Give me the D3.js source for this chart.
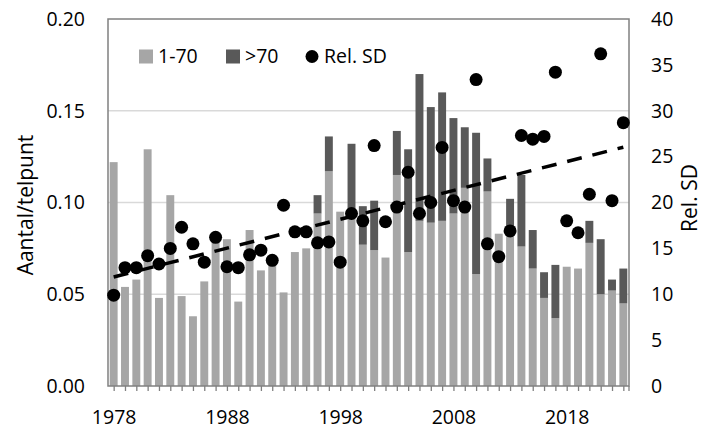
<!DOCTYPE html>
<html>
<head>
<meta charset="utf-8">
<script src="https://cdn.jsdelivr.net/npm/d3@7"></script>
<style>
  body { margin: 0; background: #fff; }
  svg text { font-family: "Open Sans", sans-serif; fill: #000; }
</style>
</head>
<body>
<div id="chart"></div>
<script>
// years on the x axis
var years = d3.range(1978, 2024);

// aantal per telpunt, 1-70 (light bars)
var low = [0.122, 0.054, 0.058, 0.129, 0.048, 0.104, 0.049, 0.038, 0.057, 0.082,
           0.080, 0.046, 0.085, 0.063, 0.067, 0.051, 0.073, 0.075, 0.094, 0.117,
           0.095, 0.096, 0.077, 0.074, 0.070, 0.115, 0.073, 0.090, 0.089, 0.090,
           0.094, 0.108, 0.061, 0.106, 0.083, 0.085, 0.076, 0.064, 0.048, 0.037,
           0.065, 0.064, 0.078, 0.050, 0.052, 0.045];

// aantal per telpunt, >70 (dark bars, stacked on top)
var high = [0, 0, 0, 0, 0, 0, 0, 0, 0, 0,
            0, 0, 0, 0, 0, 0, 0, 0, 0.010, 0.019,
            0, 0.036, 0.021, 0.027, 0, 0.024, 0.056, 0.080, 0.063, 0.070,
            0.052, 0.033, 0.077, 0.018, 0, 0.017, 0.039, 0.021, 0.014, 0.029,
            0, 0, 0.012, 0.030, 0.006, 0.019];

// relative SD (right axis)
var relSD = [9.9, 12.9, 12.9, 14.2, 13.3, 15.0, 17.3, 15.5, 13.5, 16.2,
             13.0, 12.9, 14.3, 14.8, 13.7, 19.7, 16.8, 16.8, 15.6, 15.7,
             13.5, 18.8, 18.0, 26.2, 17.9, 19.5, 23.3, 18.8, 20.0, 26.0,
             20.2, 19.5, 33.4, 15.5, 14.1, 16.9, 27.3, 26.9, 27.2, 34.2,
             18.0, 16.7, 20.9, 36.2, 20.2, 28.7];

var leftTicks = [0, 0.05, 0.10, 0.15, 0.20];
var rightTicks = [0, 5, 10, 15, 20, 25, 30, 35, 40];
var xLabels = [1978, 1988, 1998, 2008, 2018];

var width = 704, height = 430;
var margin = {top: 19, right: 75, bottom: 44, left: 108};

var data = years.map(function(y, i) {
  return {year: y, low: low[i], high: high[i], sd: relSD[i]};
});

var svg = d3.select("#chart").append("svg")
    .attr("width", width)
    .attr("height", height);

var x = d3.scaleBand()
    .domain(years)
    .range([margin.left, width - margin.right])
    .paddingInner(0.3)
    .paddingOuter(0.15);

var y = d3.scaleLinear()
    .domain([0, 0.20])
    .range([height - margin.bottom, margin.top]);

var y2 = d3.scaleLinear()
    .domain([0, 40])
    .range([height - margin.bottom, margin.top]);

var cx = function(yr) { return x(yr) + x.bandwidth() / 2; };

// gridlines
svg.append("g")
  .selectAll("line")
  .data(leftTicks.slice(1, 4))
  .enter().append("line")
    .attr("x1", margin.left)
    .attr("x2", width - margin.right)
    .attr("y1", d => y(d))
    .attr("y2", d => y(d))
    .attr("stroke", "#d9d9d9")
    .attr("stroke-width", 1.3);

// bars 1-70
svg.append("g")
  .selectAll("rect")
  .data(data)
  .enter().append("rect")
    .attr("x", d => x(d.year))
    .attr("width", x.bandwidth())
    .attr("y", d => y(d.low))
    .attr("height", d => y(0) - y(d.low))
    .attr("fill", "#a6a6a6");

// bars >70
svg.append("g")
  .selectAll("rect")
  .data(data.filter(d => d.high > 0))
  .enter().append("rect")
    .attr("x", d => x(d.year))
    .attr("width", x.bandwidth())
    .attr("y", d => y(d.low + d.high))
    .attr("height", d => y(d.low) - y(d.low + d.high))
    .attr("fill", "#595959");

// plot border
svg.append("rect")
    .attr("x", margin.left)
    .attr("y", margin.top)
    .attr("width", width - margin.left - margin.right)
    .attr("height", height - margin.top - margin.bottom)
    .attr("fill", "none")
    .attr("stroke", "#808080")
    .attr("stroke-width", 1.5);

// x axis: tick at every year, label every 10 years
var xAxis = d3.axisBottom(d3.scaleLinear().domain([1978, 2023]).range([cx(1978), cx(2023)]))
    .tickValues(years)
    .tickSize(5)
    .tickSizeOuter(0)
    .tickFormat(d => xLabels.indexOf(d) >= 0 ? d : "");

var gx = svg.append("g")
    .attr("transform", "translate(0," + (height - margin.bottom) + ")")
    .call(xAxis);
gx.select(".domain").remove();
gx.selectAll("line").attr("stroke", "#808080").attr("stroke-width", 1.3);
gx.append("line")
    .attr("x1", width - margin.right).attr("x2", width - margin.right)
    .attr("y1", 0).attr("y2", 5)
    .attr("stroke", "#808080").attr("stroke-width", 1.3);
gx.selectAll("text")
    .attr("y", 24)
    .attr("dy", "0.71em")
    .style("font-size", "19.5px")
    .style("font-family", "Open Sans");

// left axis
var gy = svg.append("g")
    .attr("transform", "translate(" + margin.left + ",0)")
    .call(d3.axisLeft(y).tickValues(leftTicks).tickSize(0).tickFormat(d3.format(".2f")));
gy.select(".domain").remove();
gy.selectAll("text")
    .attr("x", -23)
    .style("font-size", "19.5px")
    .style("font-family", "Open Sans");

// right axis
var gy2 = svg.append("g")
    .attr("transform", "translate(" + (width - margin.right) + ",0)")
    .call(d3.axisRight(y2).tickValues(rightTicks).tickSize(0));
gy2.select(".domain").remove();
gy2.selectAll("text")
    .attr("x", 22)
    .style("font-size", "19.5px")
    .style("font-family", "Open Sans");

// axis titles
svg.append("text")
    .attr("transform", "rotate(-90)")
    .attr("x", -205)
    .attr("y", 33)
    .style("text-anchor", "middle")
    .style("font-size", "21px")
    .text("Aantal/telpunt");

svg.append("text")
    .attr("transform", "rotate(-90)")
    .attr("x", -198)
    .attr("y", 697)
    .style("text-anchor", "middle")
    .style("font-size", "21px")
    .text("Rel. SD");

// linear trendline of rel. SD
var reg = (function() {
  var mx = d3.mean(data, d => d.year), my = d3.mean(data, d => d.sd);
  var sxy = d3.sum(data, d => (d.year - mx) * (d.sd - my));
  var sxx = d3.sum(data, d => (d.year - mx) * (d.year - mx));
  var b = sxy / sxx;
  return {b: b, a: my - b * mx};
})();

svg.append("path")
    .datum([1978, 2023])
    .attr("fill", "none")
    .attr("stroke", "#000")
    .attr("stroke-width", 3.5)
    .attr("stroke-dasharray", "15,11")
    .attr("d", d3.line()
      .x(d => cx(d))
      .y(d => y2(reg.a + reg.b * d)));

// rel. SD dots
svg.append("g")
  .selectAll("circle")
  .data(data)
  .enter().append("circle")
    .attr("cx", d => cx(d.year))
    .attr("cy", d => y2(d.sd))
    .attr("r", 6.5)
    .attr("fill", "#000");

// legend
var legend = svg.append("g");
legend.append("rect").attr("x", 139).attr("y", 49.5).attr("width", 14).attr("height", 14).attr("fill", "#a6a6a6");
legend.append("text").attr("x", 158).attr("y", 63).style("font-size", "19.5px").text("1-70");
legend.append("rect").attr("x", 226).attr("y", 49.5).attr("width", 14).attr("height", 14).attr("fill", "#595959");
legend.append("text").attr("x", 245).attr("y", 63).style("font-size", "19.5px").text(">70");
legend.append("circle").attr("cx", 312).attr("cy", 56.5).attr("r", 6.5).attr("fill", "#000");
legend.append("text").attr("x", 324).attr("y", 63).style("font-size", "19.5px").text("Rel. SD");
</script>
</body>
</html>
